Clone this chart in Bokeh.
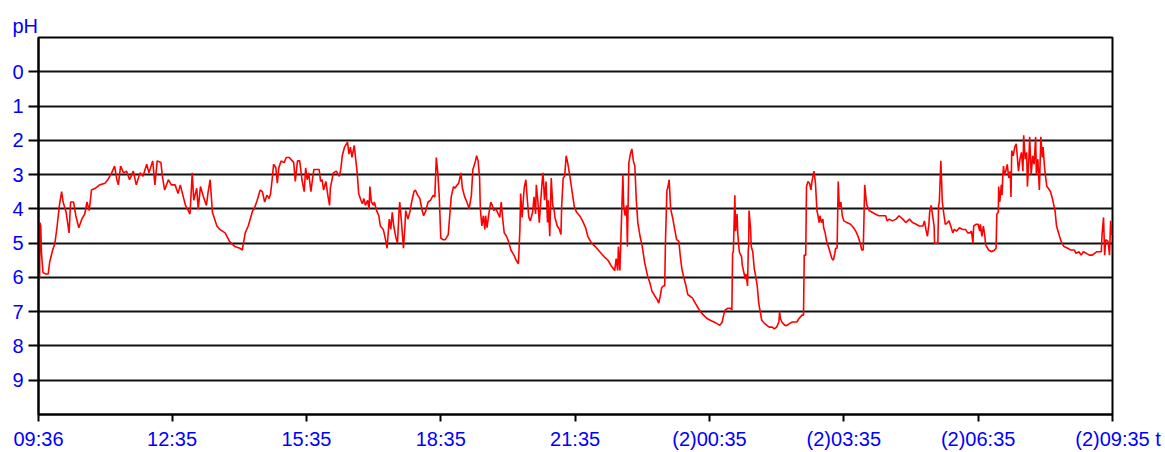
from bokeh.plotting import figure
from bokeh.models import Range1d, FixedTicker
from bokeh.embed import file_html
from bokeh.resources import INLINE

# minutes since 09:36 and pH
t_min = [0, 1.5, 2, 3, 4, 6, 9, 13, 15, 19, 22, 25, 28, 31, 33, 37, 41, 43, 47, 50, 54, 58, 62, 65, 68, 71, 76, 82, 89, 93, 98, 102, 105, 107, 110, 114, 118, 122, 127, 131, 136, 140, 145, 148, 153, 156, 159, 164, 166, 169, 174, 178, 183, 187, 190, 194, 197, 203, 206, 208, 212, 214, 217, 221, 225, 227, 230, 233, 239, 243, 250, 256, 263, 270, 273, 277, 281, 287,
         289, 293, 297, 300, 303, 306, 309, 311, 313, 315, 318, 320, 322, 325, 329, 332, 336, 340, 342, 344, 347, 350, 353, 356, 358, 360, 362, 365, 367, 369, 373, 376, 378, 380, 382, 385, 388, 390, 391, 395, 399, 403, 405, 407, 410, 414, 416, 418, 420, 423, 425, 427, 429, 432, 434, 436, 438, 441, 443, 444, 446, 449, 450, 453, 456, 458, 462, 465, 467, 470, 472, 474, 476, 479, 481, 483, 484, 486, 489, 491, 492, 495, 498, 500, 503, 505, 508, 511, 514, 516, 519, 522, 525, 529, 531, 533, 535, 537, 539, 542, 545, 549, 551, 553, 556, 558, 561, 563, 566, 568, 571,
         574, 577, 580, 582, 585, 587, 589, 591, 592, 594, 596, 598, 599, 601, 603, 606, 608, 610, 613, 616, 618, 620, 622, 624, 627, 629, 631, 633, 637, 640, 643, 645, 646, 648, 650, 651, 653, 655, 657, 659, 662, 664, 666, 667, 669, 671, 673, 675, 676, 678, 680, 682, 683, 685, 687, 689, 691, 692, 695, 698, 700, 701, 703, 705, 707, 709, 712, 714, 716, 718, 721, 725, 729, 733, 736, 741, 746, 752, 758, 763, 767, 772, 774, 776, 777, 779, 781, 783, 784, 786, 788, 789, 791, 793, 795, 797, 799, 801, 803, 806, 809, 812, 816, 819, 822, 826, 829, 831, 833, 835, 837, 839, 840, 842, 843, 845, 847, 850, 852, 855,
         858, 860, 862, 864, 867, 870, 873, 876, 880, 884, 887, 891, 896, 900, 905, 909, 913, 916, 918, 920, 924, 927, 929, 930, 931, 933, 934, 936, 937, 939, 942, 943, 945, 947, 948, 950, 951, 951.5, 952, 954, 955, 957, 959, 960, 963, 965, 967, 969, 973, 976, 979, 983, 986, 989, 992, 993, 994, 996, 1000, 1003, 1006, 1010, 1013, 1016, 1019, 1023, 1025, 1026, 1028, 1029, 1031, 1033, 1035, 1036, 1038, 1039, 1041, 1043, 1044, 1046, 1047, 1049, 1051, 1052, 1054, 1056, 1059, 1061, 1063, 1065, 1067, 1068, 1070, 1071.5, 1073, 1075, 1077, 1079, 1083, 1088, 1092, 1095, 1098, 1101, 1103, 1105, 1106, 1107, 1109, 1110, 1113, 1117, 1121, 1126, 1131, 1135, 1137, 1140, 1144,
         1149, 1153, 1158, 1162, 1167, 1171, 1176, 1180, 1185, 1187, 1189, 1191, 1193, 1194, 1196, 1198, 1200, 1200.6, 1205, 1206, 1207, 1209, 1210, 1211, 1213, 1215, 1218, 1220, 1223, 1225, 1227, 1230, 1234, 1238, 1242, 1245, 1248, 1250, 1252, 1253, 1256, 1259, 1261, 1262, 1264, 1266, 1268, 1269, 1273, 1277, 1281, 1283, 1284, 1286, 1286.5, 1288, 1290, 1291, 1292, 1293, 1294, 1296, 1298, 1300, 1302, 1303, 1304, 1306, 1308, 1310, 1311, 1313, 1315, 1317, 1319, 1320, 1322, 1324, 1325, 1327, 1328, 1330, 1332, 1334, 1336, 1337, 1339, 1341, 1343, 1345, 1346, 1348, 1349, 1351, 1353, 1356, 1359, 1362, 1364, 1368, 1371, 1374, 1379, 1383, 1388, 1390, 1394, 1397, 1400, 1404, 1408, 1412, 1415, 1418, 1421, 1424, 1425, 1427, 1428.5, 1430, 1433, 1435, 1436.5, 1438, 1439]

ph = [6.1, 6.0, 4.4, 4.5, 5.3, 5.85, 5.9, 5.9, 5.55, 5.2, 5.0, 4.5, 3.9, 3.5, 3.8, 4.1, 4.7, 3.8, 3.8, 4.2, 4.55, 4.3, 4.15, 3.8, 4.05, 3.45, 3.4, 3.3, 3.25, 3.15, 2.95, 2.75, 3.15, 3.3, 2.75, 2.95, 2.9, 3.15, 2.9, 3.3, 2.95, 3.05, 2.7, 2.95, 2.6, 3.3, 2.6, 2.65, 3.05, 3.45, 3.15, 3.3, 3.3, 3.55, 3.3, 3.65, 3.9, 4.15, 2.95, 3.75, 3.4, 4.0, 3.35, 3.65, 3.9, 3.55, 3.15, 4.1, 4.5, 4.6, 4.7, 4.95, 5.1, 5.15, 5.2, 4.7, 4.5, 4.05,
      4.0, 3.75, 3.45, 3.5, 3.8, 3.6, 3.7, 3.55, 3.15, 2.7, 2.8, 3.25, 2.8, 2.6, 2.65, 2.5, 2.5, 2.6, 2.65, 3.2, 2.6, 2.6, 3.15, 3.5, 2.8, 3.15, 2.95, 3.5, 3.15, 2.85, 2.85, 2.85, 3.2, 3.15, 3.45, 3.2, 3.65, 3.9, 3.4, 2.95, 2.9, 3.05, 2.85, 2.45, 2.2, 2.05, 2.4, 2.2, 2.5, 2.15, 2.55, 2.95, 3.55, 3.75, 3.85, 3.7, 3.9, 3.75, 4.0, 3.35, 3.8, 3.9, 3.8, 4.05, 4.2, 4.5, 4.6, 4.9, 5.15, 4.3, 4.6, 4.1, 4.5, 4.85, 5.0, 4.1, 3.8, 4.3, 5.15, 4.5, 4.05, 4.3, 4.05, 3.8, 3.5, 3.45, 3.6, 3.7, 4.05, 4.2, 4.05, 3.8, 3.75, 3.6, 3.65, 2.5, 2.95, 3.65, 4.85, 4.9, 4.9, 4.75, 4.2, 3.65, 3.35, 3.4, 3.3, 3.25, 2.95, 3.4, 3.65,
      3.8, 4.0, 3.6, 2.85, 2.65, 2.45, 2.6, 3.1, 4.0, 4.5, 4.2, 4.6, 4.2, 4.55, 4.2, 3.8, 3.9, 4.05, 4.0, 4.15, 4.25, 3.8, 4.3, 4.7, 4.8, 4.9, 5.05, 5.2, 5.35, 5.5, 5.6, 4.6, 3.55, 4.25, 3.6, 3.35, 3.15, 3.75, 4.25, 4.35, 4.1, 3.65, 4.15, 3.3, 3.75, 4.4, 3.75, 3.15, 2.95, 3.75, 3.2, 4.4, 3.75, 4.8, 3.1, 3.9, 4.05, 4.25, 4.5, 4.6, 4.75, 3.9, 3.1, 3.05, 2.45, 2.65, 3.05, 3.35, 3.65, 3.95, 4.1, 4.2, 4.35, 4.55, 4.8, 5.0, 5.1, 5.25, 5.4, 5.5, 5.65, 5.8, 5.45, 5.8, 5.1, 5.8, 4.4, 3.0, 3.9, 4.2, 3.9, 5.1, 2.65, 2.4, 2.25, 2.6, 2.75, 3.75, 4.4, 4.8, 5.1, 5.55, 5.95, 6.15, 6.4, 6.55, 6.65, 6.75, 6.55, 6.3, 6.25, 6.25, 5.0, 3.45, 3.4, 3.15, 4.0, 4.3, 4.55, 4.9,
      4.95, 5.4, 5.75, 5.95, 6.2, 6.5, 6.55, 6.6, 6.75, 6.9, 7.0, 7.1, 7.2, 7.25, 7.3, 7.35, 7.4, 7.3, 7.1, 6.95, 6.9, 6.9, 6.95, 5.3, 5.25, 3.6, 4.65, 4.15, 4.75, 5.25, 5.4, 5.65, 5.85, 6.05, 5.9, 6.25, 5.2, 5.1, 4.05, 4.55, 5.1, 5.25, 5.75, 5.85, 6.25, 6.75, 7.0, 7.25, 7.35, 7.4, 7.45, 7.45, 7.5, 7.45, 7.3, 7.0, 7.2, 7.3, 7.4, 7.4, 7.35, 7.3, 7.3, 7.3, 7.2, 7.1, 7.1, 5.35, 5.35, 3.35, 3.2, 3.25, 3.45, 3.25, 3.0, 2.9, 3.25, 4.05, 4.15, 4.4, 4.2, 4.4, 4.3, 4.55, 4.7, 4.95, 5.15, 5.3, 5.45, 5.5, 5.3, 5.15, 5.15, 3.2, 3.95, 3.8, 4.2, 4.35, 4.4, 4.45, 4.55, 4.65, 4.8, 5.0, 5.2, 5.2, 4.3, 3.3, 3.75, 3.9, 4.05, 4.1, 4.15, 4.2, 4.2, 4.2, 4.35, 4.3, 4.35,
      4.3, 4.2, 4.3, 4.4, 4.3, 4.4, 4.45, 4.5, 4.5, 4.35, 4.6, 4.8, 4.45, 4.1, 3.9, 4.2, 4.5, 5.0, 5.0, 3.9, 3.8, 2.6, 3.2, 3.8, 4.15, 4.45, 4.4, 4.35, 4.55, 4.7, 4.6, 4.65, 4.55, 4.6, 4.6, 4.7, 4.7, 4.65, 5.0, 4.5, 4.45, 4.45, 4.65, 4.45, 4.8, 4.5, 4.8, 5.05, 5.2, 5.25, 5.2, 5.15, 4.15, 4.1, 3.35, 3.8, 3.3, 3.6, 3.05, 2.75, 3.0, 2.9, 2.7, 3.1, 2.9, 3.65, 2.3, 2.45, 2.2, 2.1, 2.35, 2.9, 2.55, 2.35, 2.9, 1.85, 2.55, 2.35, 3.35, 2.5, 1.9, 3.0, 2.45, 2.7, 1.9, 3.0, 2.55, 3.45, 1.9, 2.5, 2.2, 2.8, 3.0, 3.35, 3.4, 3.5, 3.75, 4.05, 4.5, 4.8, 5.0, 5.1, 5.15, 5.2, 5.2, 5.3, 5.25, 5.35, 5.25, 5.3, 5.35, 5.35, 5.3, 5.25, 5.25, 5.25, 4.75, 4.25, 5.35, 4.9, 4.95, 5.35, 4.35, 4.75, 4.7]

x_tick_pos = [0, 179, 359, 539, 719, 899, 1079, 1259, 1439]
x_tick_labels = ["09:36", "12:35", "15:35", "18:35", "21:35",
                 "(2)00:35", "(2)03:35", "(2)06:35",
                 "\u00a0\u00a0(2)09:35\u00a0t"]
y_ticks = [0, 1, 2, 3, 4, 5, 6, 7, 8, 9]
y_caption = "pH"

FONT = "Liberation Sans"
FSIZE = "20px"
BLUE = "#0000FF"

p = figure(width=1165, height=452, output_backend="svg", toolbar_location=None,
           x_range=Range1d(0, 1439), y_range=Range1d(10, -1),
           min_border_left=38, min_border_top=37, min_border_right=53,
           min_border_bottom=37, title=y_caption)

p.line(t_min, ph, line_color="#FF0000", line_width=1.6)

# "pH" caption drawn as a left-aligned title over the axis
p.title.align = "left"
p.title.offset = -26
p.title.standoff = 1
p.title.text_font = FONT
p.title.text_font_size = FSIZE
p.title.text_font_style = "normal"
p.title.text_color = BLUE

p.outline_line_color = "black"
p.outline_line_width = 2
p.outline_line_alpha = 1
p.background_fill_color = "white"
p.border_fill_color = "white"

p.xgrid.visible = False
p.ygrid.ticker = FixedTicker(ticks=y_ticks)
p.ygrid.grid_line_color = "#111111"
p.ygrid.grid_line_width = 2

ya = p.yaxis[0]
ya.ticker = FixedTicker(ticks=y_ticks)
ya.major_tick_out = 10
ya.major_tick_in = 0
ya.minor_tick_out = 0
ya.minor_tick_in = 0
ya.major_tick_line_color = "black"
ya.major_tick_line_width = 2
ya.axis_line_color = "black"
ya.axis_line_width = 2
ya.major_label_standoff = 5
ya.major_label_text_font = FONT
ya.major_label_text_font_size = FSIZE
ya.major_label_text_color = BLUE

xa = p.xaxis[0]
xa.ticker = FixedTicker(ticks=x_tick_pos)
xa.major_label_overrides = {k: v for k, v in zip(x_tick_pos, x_tick_labels)}
xa.major_tick_out = 7
xa.major_tick_in = 0
xa.minor_tick_out = 0
xa.minor_tick_in = 0
xa.major_tick_line_color = "black"
xa.major_tick_line_width = 2
xa.axis_line_color = "black"
xa.axis_line_width = 2
xa.major_label_standoff = 6
xa.major_label_text_font = FONT
xa.major_label_text_font_size = FSIZE
xa.major_label_text_color = BLUE

open("out.html", "w").write(file_html(p, INLINE))
